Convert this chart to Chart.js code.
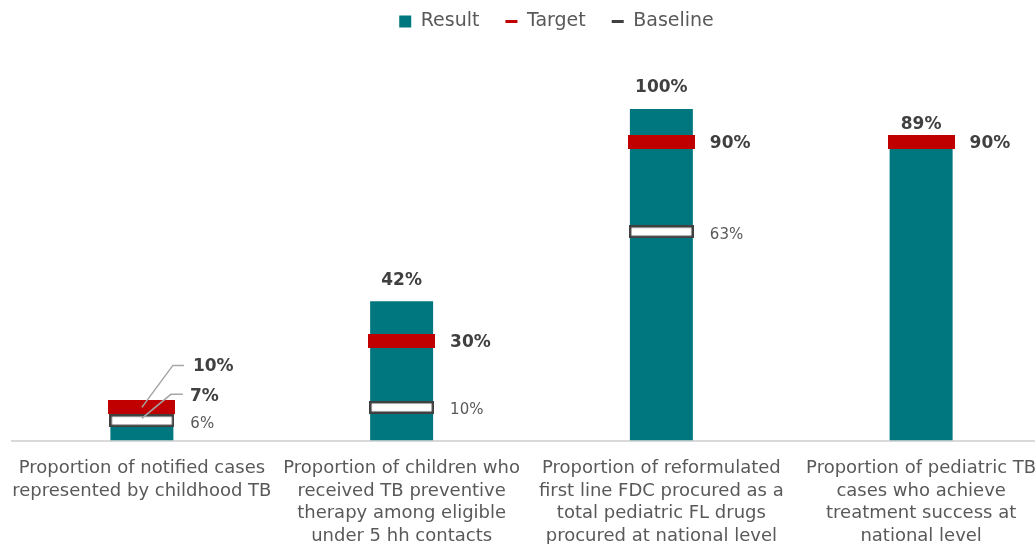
<!DOCTYPE html>
<html>
<head>
<meta charset="utf-8">
<script src="https://cdn.jsdelivr.net/npm/chart.js@4.4.1/dist/chart.umd.min.js"></script>
<style>
  html, body { margin: 0; padding: 0; background: #ffffff; overflow: hidden; width: 1035px; height: 544px; }
  canvas { position: absolute; left: 0; top: 0; }
</style>
</head>
<body>
<canvas id="c" width="1062" height="544" style="width:1062px;height:544px"></canvas>
<script>
const categories = [
  ["Proportion of notified cases", "represented by childhood TB"],
  ["Proportion of children who", "received TB preventive", "therapy among eligible", "under 5 hh contacts"],
  ["Proportion of reformulated", "first line FDC procured as a", "total pediatric FL drugs", "procured at national level"],
  ["Proportion of pediatric TB", "cases who achieve", "treatment success at", "national level"]
];
const resultValues = [0.07, 0.42, 1.00, 0.89];
const targetValues = [0.10, 0.30, 0.90, 0.90];
const baselineValues = [0.06, 0.10, 0.63, null];
const seriesNames = ["Result", "Target", "Baseline"];

const TEAL = '#00777F';
const RED = '#C00000';
const DARK = '#404040';
const GREY_TXT = '#595959';
const FONT = "'DejaVu Sans', sans-serif";

function markerCanvas(w, h, fill, stroke, lw) {
  const c = document.createElement('canvas');
  c.width = w; c.height = h;
  const x = c.getContext('2d');
  x.fillStyle = fill;
  x.fillRect(0, 0, w, h);
  if (stroke) {
    x.strokeStyle = stroke;
    x.lineWidth = lw;
    x.strokeRect(lw / 2, lw / 2, w - lw, h - lw);
  }
  return c;
}
const targetMarker = markerCanvas(67, 14, RED);
const baselineMarker = markerCanvas(65, 13, '#ffffff', DARK, 2.5);

const pct = v => Math.round(v * 100) + '%';

const legendShift = {
  id: 'legendShift',
  afterLayout(chart) {
    const lg = chart.legend;
    if (lg) { lg.left += 20; lg.right += 20; }
  }
};

const labelPlugin = {
  id: 'valueLabels',
  afterDatasetsDraw(chart) {
    const ctx = chart.ctx;
    const y = chart.scales.y;
    const barMeta = chart.getDatasetMeta(0);
    ctx.save();
    categories.forEach((_, i) => {
      const bar = barMeta.data[i];
      const cx = bar.x;
      const half = bar.width / 2;
      const leader = (i === 0);
      const ry = y.getPixelForValue(resultValues[i]);
      ctx.font = "bold 17px " + FONT;
      ctx.fillStyle = DARK;
      ctx.textBaseline = 'middle';
      if (!leader) {
        ctx.textAlign = 'center';
        ctx.fillText(pct(resultValues[i]), cx, ry - 21);
      }
      const ty = y.getPixelForValue(targetValues[i]);
      if (leader) {
        ctx.strokeStyle = '#A6A6A6';
        ctx.lineWidth = 1.5;
        ctx.beginPath();
        ctx.moveTo(cx, ty);
        ctx.lineTo(cx + 31, ty - 42);
        ctx.lineTo(cx + 42, ty - 42);
        ctx.stroke();
        ctx.beginPath();
        ctx.moveTo(cx, ry + 1);
        ctx.lineTo(cx + 29, ry - 23);
        ctx.lineTo(cx + 41, ry - 23);
        ctx.stroke();
        ctx.textAlign = 'left';
        ctx.fillText(pct(targetValues[i]), cx + 51, ty - 41);
        ctx.fillText(pct(resultValues[i]), cx + 48, ry - 21);
      } else {
        ctx.textAlign = 'left';
        ctx.fillText(pct(targetValues[i]), cx + half + 17, ty + 1);
      }
      if (baselineValues[i] !== null) {
        const by = y.getPixelForValue(baselineValues[i]);
        ctx.font = "15px " + FONT;
        ctx.fillStyle = GREY_TXT;
        ctx.textAlign = 'left';
        ctx.fillText(pct(baselineValues[i]), cx + half + 17, by + 3);
      }
    });
    ctx.restore();
  }
};

new Chart(document.getElementById('c'), {
  data: {
    labels: categories,
    datasets: [
      {
        type: 'bar', label: seriesNames[0], data: resultValues,
        backgroundColor: TEAL, borderWidth: 0,
        barPercentage: 0.97, categoryPercentage: 0.25, order: 3
      },
      {
        type: 'line', label: seriesNames[1], data: targetValues,
        showLine: false, pointStyle: targetMarker, pointRadius: 10, pointHoverRadius: 10,
        borderColor: RED, backgroundColor: RED, order: 2
      },
      {
        type: 'line', label: seriesNames[2], data: baselineValues,
        showLine: false, pointStyle: baselineMarker, pointRadius: 10, pointHoverRadius: 10,
        borderColor: DARK, backgroundColor: '#ffffff', order: 1
      }
    ]
  },
  options: {
    responsive: false,
    maintainAspectRatio: false,
    animation: false,
    events: [],
    layout: { padding: { left: 12, right: 1, top: -14, bottom: -4 } },
    scales: {
      x: {
        offset: true,
        grid: {
          display: true, drawOnChartArea: false, drawTicks: true,
          tickLength: 16, color: 'rgba(0,0,0,0)', tickColor: 'rgba(0,0,0,0)'
        },
        border: { display: true, color: '#D9D9D9', width: 2 },
        ticks: {
          color: GREY_TXT, padding: 0, maxRotation: 0, autoSkip: false,
          font: { family: FONT, size: 18, lineHeight: 1.27 }
        }
      },
      y: {
        display: false, min: 0, max: 1.205,
        grid: { display: false }
      }
    },
    plugins: {
      tooltip: { enabled: false },
      legend: {
        position: 'top',
        labels: {
          color: GREY_TXT,
          font: { family: FONT, size: 19 },
          usePointStyle: true,
          boxHeight: 12,
          pointStyleWidth: 12,
          padding: 26,
          generateLabels(chart) {
            const colors = [TEAL, RED, DARK];
            return seriesNames.map((n, i) => ({
              text: n,
              fillStyle: colors[i],
              strokeStyle: colors[i],
              lineWidth: i === 0 ? 0 : 3,
              pointStyle: i === 0 ? 'rect' : 'line',
              fontColor: GREY_TXT,
              hidden: false,
              datasetIndex: i
            }));
          }
        }
      }
    }
  },
  plugins: [labelPlugin, legendShift]
});
</script>
</body>
</html>
